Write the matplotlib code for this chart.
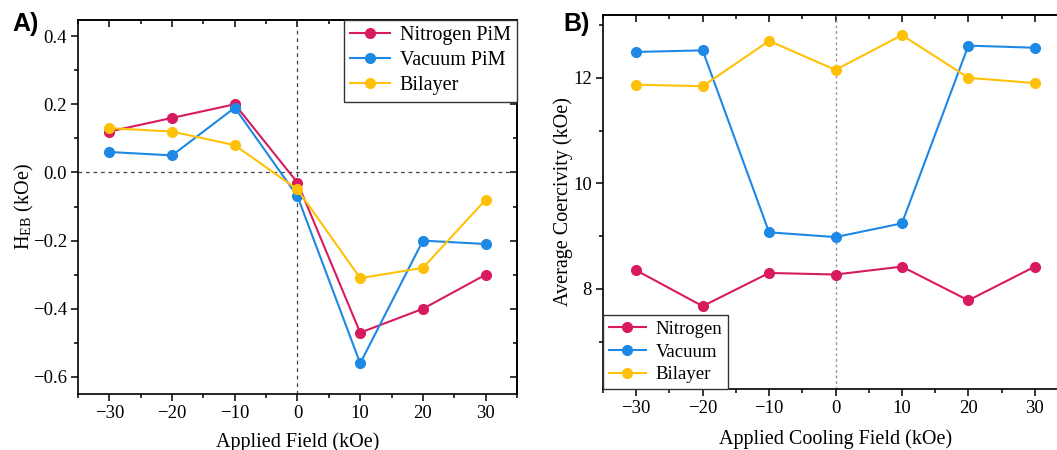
import matplotlib
matplotlib.use('Agg')
import matplotlib.pyplot as plt
from matplotlib.ticker import MultipleLocator

plt.rcParams['font.family'] = ['Liberation Serif', 'DejaVu Serif']
plt.rcParams['mathtext.fontset'] = 'stix'

fields = [-30, -20, -10, 0, 10, 20, 30]
field_labels = ['\u221230', '\u221220', '\u221210', '0', '10', '20', '30']

# panel A: exchange bias
heb_nitrogen = [0.12, 0.16, 0.20, -0.03, -0.47, -0.40, -0.30]
heb_vacuum = [0.06, 0.05, 0.19, -0.07, -0.56, -0.20, -0.21]
heb_bilayer = [0.13, 0.12, 0.08, -0.05, -0.31, -0.28, -0.08]

# panel B: average coercivity
hc_nitrogen = [8.35, 7.67, 8.30, 8.27, 8.42, 7.78, 8.42]
hc_vacuum = [12.49, 12.52, 9.07, 8.98, 9.24, 12.61, 12.57]
hc_bilayer = [11.87, 11.84, 12.70, 12.15, 12.81, 12.00, 11.90]

red = '#D81B60'
blue = '#1E88E5'
yellow = '#FFC107'

fig = plt.figure(figsize=(10.57, 4.5), dpi=100)
axA = fig.add_axes([0.0738, 0.1244, 0.4153, 0.831])
axB = fig.add_axes([0.5705, 0.1356, 0.4399, 0.831])

for ax in (axA, axB):
    for s in ax.spines.values():
        s.set_linewidth(1.2)
    ax.tick_params(which='both', direction='out', labelsize=13.5, width=1.1,
                   top=False, right=False, pad=3)
    ax.tick_params(which='major', length=5)
    ax.tick_params(which='minor', length=3)
    ax.set_xlim(-35, 35)
    ax.set_xticks(fields)
    ax.set_xticklabels(field_labels)
    ax.xaxis.set_minor_locator(MultipleLocator(5))
    # inward ticks along the top
    top = ax.secondary_xaxis('top')
    top.set_xticks(fields)
    top.xaxis.set_minor_locator(MultipleLocator(5))
    top.tick_params(which='both', direction='in', labeltop=False, width=1.1)
    top.tick_params(which='major', length=5)
    top.tick_params(which='minor', length=3)
    top.spines['top'].set_linewidth(1.2)

rightA = axA.secondary_yaxis('right')
rightA.set_yticks([-0.6, -0.4, -0.2, 0.0, 0.2, 0.4])
rightA.yaxis.set_minor_locator(MultipleLocator(0.1))
rightA.tick_params(which='both', direction='in', labelright=False, width=1.1)
rightA.tick_params(which='major', length=5)
rightA.tick_params(which='minor', length=3)
rightA.spines['right'].set_linewidth(1.2)

mk = dict(marker='o', markersize=7, linewidth=1.5)
leg_kw = dict(frameon=True, fancybox=False, edgecolor='#333333', borderaxespad=0,
              handlelength=2.0, borderpad=0.3, labelspacing=0.3, handletextpad=0.5,
              framealpha=1)

# panel A
axA.axvline(0, color='#444444', linestyle=(0, (3, 3)), linewidth=0.9, zorder=1)
axA.axhline(0, color='#444444', linestyle=(0, (3, 3)), linewidth=0.9, zorder=1)
axA.plot(fields, heb_nitrogen, color=red, label='Nitrogen PiM', **mk)
axA.plot(fields, heb_vacuum, color=blue, label='Vacuum PiM', **mk)
axA.plot(fields, heb_bilayer, color=yellow, label='Bilayer', **mk)
axA.set_ylim(-0.65, 0.447)
axA.set_yticks([-0.6, -0.4, -0.2, 0.0, 0.2, 0.4])
axA.set_yticklabels(['\u22120.6', '\u22120.4', '\u22120.2', '0.0', '0.2', '0.4'])
axA.yaxis.set_minor_locator(MultipleLocator(0.1))
axA.set_xlabel('Applied Field (kOe)', fontsize=14.5, labelpad=7)
axA.set_ylabel(r'H$_\mathregular{EB}$ (kOe)', fontsize=14.5, labelpad=-2)
legA = axA.legend(loc='upper right', fontsize=14.5, **leg_kw)
legA.get_frame().set_linewidth(1.0)

# panel B
axB.axvline(0, color='#999999', linestyle=(0, (2, 2)), linewidth=1.0, zorder=1)
axB.plot(fields, hc_nitrogen, color=red, label='Nitrogen', **mk)
axB.plot(fields, hc_vacuum, color=blue, label='Vacuum', **mk)
axB.plot(fields, hc_bilayer, color=yellow, label='Bilayer', **mk)
axB.set_ylim(6.1, 13.19)
axB.set_yticks([8, 10, 12])
axB.yaxis.set_minor_locator(MultipleLocator(1))
axB.spines['right'].set_visible(False)
axB.set_xlabel('Applied Cooling Field (kOe)', fontsize=14.5, labelpad=9)
axB.set_ylabel('Average Coercivity (kOe)', fontsize=14.5, labelpad=0)
legB = axB.legend(loc='lower left', fontsize=13.5, **leg_kw)
legB.get_frame().set_linewidth(1.0)

fig.text(0.012, 0.93, 'A)', fontsize=18, fontweight='bold', family='Liberation Sans')
fig.text(0.533, 0.93, 'B)', fontsize=18, fontweight='bold', family='Liberation Sans')

fig.savefig('out.png', dpi=100)
